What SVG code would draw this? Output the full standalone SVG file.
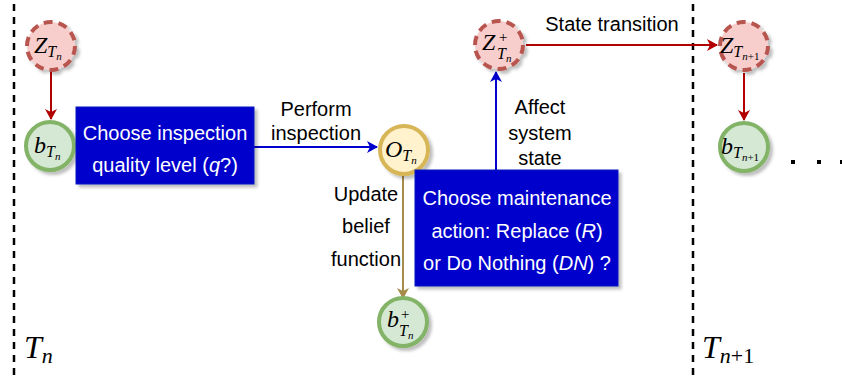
<svg xmlns="http://www.w3.org/2000/svg" width="842" height="376" viewBox="0 0 842 376">
<style>
.sans{font-family:"Liberation Sans",Arial,sans-serif;font-size:20px;}
.wt{fill:#ffffff;}
.bk{fill:#000000;}
.math{font-family:"Liberation Serif","Times New Roman",serif;font-style:italic;fill:#000;}
.zc{fill:#f8cecc;stroke:#b85450;stroke-width:4;stroke-dasharray:9 6;}
.bc{fill:#d5e8d4;stroke:#82b366;stroke-width:4;}
.oc{fill:#fff2cc;stroke:#d6b656;stroke-width:4;}
.box{fill:#0000cc;stroke:#001dbc;stroke-width:1;}
.vl{stroke:#000;stroke-width:2.5;stroke-dasharray:7 6;fill:none;}
</style>
<defs>
<filter id="sh" x="-20%" y="-20%" width="150%" height="150%">
<feDropShadow dx="3" dy="3" stdDeviation="1.5" flood-color="#000" flood-opacity="0.25"/>
</filter>
<marker id="ar" markerWidth="12" markerHeight="12" refX="10" refY="6" orient="auto" markerUnits="userSpaceOnUse">
<path d="M0,0 L11,6 L0,12 L3,6 Z" fill="#b20000"/>
</marker>
<marker id="ab" markerWidth="12" markerHeight="12" refX="10" refY="6" orient="auto" markerUnits="userSpaceOnUse">
<path d="M0,0 L11,6 L0,12 L3,6 Z" fill="#0000cc"/>
</marker>
<marker id="ay" markerWidth="12" markerHeight="12" refX="10" refY="6" orient="auto" markerUnits="userSpaceOnUse">
<path d="M0,0 L11,6 L0,12 L3,6 Z" fill="#a68b4a"/>
</marker>
</defs>
<rect width="842" height="376" fill="#fff"/>
<line class="vl" x1="14" y1="4" x2="14" y2="376"/>
<line class="vl" x1="693" y1="4" x2="693" y2="376"/>

<g id="connectors" fill="none" stroke-width="2">
<line x1="51" y1="72" x2="51" y2="119" stroke="#b20000" marker-end="url(#ar)"/>
<line x1="254" y1="147" x2="377" y2="147" stroke="#0000cc" marker-end="url(#ab)"/>
<line x1="403" y1="176" x2="403" y2="298" stroke="#a68b4a" marker-end="url(#ay)"/>
<line x1="496" y1="170" x2="496" y2="72" stroke="#0000cc" marker-end="url(#ab)"/>
<line x1="526" y1="45" x2="717" y2="45" stroke="#b20000" marker-end="url(#ar)"/>
<line x1="744" y1="73" x2="744" y2="120" stroke="#b20000" marker-end="url(#ar)"/>
</g>

<g id="lbl-perform" class="sans bk" text-anchor="middle">
<text x="316" y="116">Perform</text>
<text x="316" y="140">inspection</text>
</g>
<g id="lbl-update" class="sans bk" text-anchor="middle">
<text x="366" y="201">Update</text>
<text x="366" y="233">belief</text>
<text x="366" y="266">function</text>
</g>
<g id="lbl-affect" class="sans bk" text-anchor="middle">
<text x="540" y="114">Affect</text>
<text x="540" y="140">system</text>
<text x="540" y="165">state</text>
</g>
<g id="lbl-state" class="sans bk" text-anchor="middle">
<text x="612" y="31">State transition</text>
</g>

<g id="z-tn">
<circle class="zc" cx="51" cy="46" r="24" filter="url(#sh)"/>
<text class="math" x="34" y="53" font-size="24">Z<tspan font-size="16" dy="4">T</tspan><tspan font-size="11" dy="3">n</tspan></text>
</g>
<g id="b-tn">
<circle class="bc" cx="50" cy="146" r="24" filter="url(#sh)"/>
<text class="math" x="34" y="153" font-size="24">b<tspan font-size="16" dy="4">T</tspan><tspan font-size="11" dy="3">n</tspan></text>
</g>
<g id="box-inspect">
<rect class="box" x="76" y="107" width="178" height="77" filter="url(#sh)"/>
<text class="sans wt" text-anchor="middle" x="165" y="140">Choose inspection</text>
<text class="sans wt" text-anchor="middle" x="165" y="172">quality level (<tspan font-style="italic">q</tspan>?)</text>
</g>
<g id="o-tn">
<circle class="oc" cx="404" cy="150" r="24" filter="url(#sh)"/>
<text class="math" x="385" y="157" font-size="24">O<tspan font-size="16" dy="4">T</tspan><tspan font-size="11" dy="3">n</tspan></text>
</g>
<g id="b-plus">
<circle class="bc" cx="403" cy="322" r="24" filter="url(#sh)"/>
<text class="math" x="387" y="327" font-size="24">b</text>
<text class="math" x="400" y="319" font-size="15" font-style="normal">+</text>
<text class="math" x="399" y="336" font-size="16">T<tspan font-size="11" dy="3">n</tspan></text>
</g>
<g id="box-maint">
<rect class="box" x="415" y="170" width="203" height="116" filter="url(#sh)"/>
<text class="sans wt" text-anchor="middle" x="517" y="205">Choose maintenance</text>
<text class="sans wt" text-anchor="middle" x="517" y="238">action: Replace (<tspan font-style="italic">R</tspan>)</text>
<text class="sans wt" text-anchor="middle" x="517" y="270">or Do Nothing (<tspan font-style="italic">DN</tspan>) ?</text>
</g>
<g id="z-plus">
<circle class="zc" cx="499" cy="45" r="24" filter="url(#sh)"/>
<text class="math" x="482" y="50" font-size="24">Z</text>
<text class="math" x="498" y="42" font-size="15" font-style="normal">+</text>
<text class="math" x="497" y="59" font-size="16">T<tspan font-size="11" dy="3">n</tspan></text>
</g>
<g id="z-tn1">
<circle class="zc" cx="744" cy="46" r="24" filter="url(#sh)"/>
<text class="math" x="720" y="53" font-size="24">Z<tspan font-size="16" dy="4">T</tspan><tspan font-size="11" dy="3">n<tspan font-style="normal">+1</tspan></tspan></text>
</g>
<g id="b-tn1">
<circle class="bc" cx="744" cy="147" r="24" filter="url(#sh)"/>
<text class="math" x="721" y="154" font-size="24">b<tspan font-size="16" dy="4">T</tspan><tspan font-size="11" dy="3">n<tspan font-style="normal">+1</tspan></tspan></text>
</g>
<g id="dots" fill="#000">
<rect x="791" y="160" width="4" height="4"/>
<rect x="817" y="160" width="4" height="4"/>
<rect x="840" y="160" width="4" height="4"/>
</g>
<g id="time-labels">
<text class="math" x="24" y="358" font-size="32">T<tspan font-size="22" dy="5">n</tspan></text>
<text class="math" x="702" y="358" font-size="32">T<tspan font-size="22" dy="5">n<tspan font-style="normal">+1</tspan></tspan></text>
</g>
</svg>
